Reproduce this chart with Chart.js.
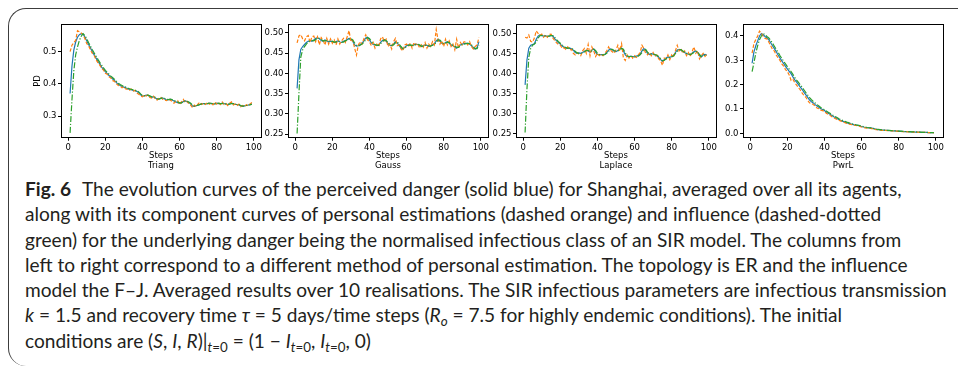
<!DOCTYPE html>
<html>
<head>
<meta charset="utf-8">
<script src="https://cdn.jsdelivr.net/npm/chart.js@4.4.1/dist/chart.umd.min.js"></script>
<style>
  html, body { margin: 0; padding: 0; background: #fff; }
  body { width: 958px; height: 368px; position: relative; overflow: hidden; }
  .frame {
    position: absolute; left: 8px; top: 8px; width: 1000px; height: 357px;
    border-top: 1.5px solid #3c3c3c; border-left: 1.5px solid #3c3c3c;
    border-top-left-radius: 18px; border-bottom-left-radius: 18px;
  }
  canvas { position: absolute; top: 14px; }
  .caption {
    position: absolute; left: 25px; top: 176px;
    font-family: Lato, sans-serif; font-size: 19.1px; line-height: 25.27px;
    color: #231f20; white-space: nowrap;
  }
  .caption b { font-weight: 700; margin-right: 11px; }
  .caption sub { font-size: 70%; line-height: 0; vertical-align: -0.3em; }
</style>
</head>
<body>
<div class="frame"></div>
<canvas id="c1" width="258" height="160" style="left:11px"></canvas>
<canvas id="c2" width="258" height="160" style="left:238px"></canvas>
<canvas id="c3" width="258" height="160" style="left:466px"></canvas>
<canvas id="c4" width="258" height="160" style="left:693px"></canvas>
<div class="caption">
<b>Fig. 6</b>The evolution curves of the perceived danger (solid blue) for Shanghai, averaged over all its agents,<br>
along with its component curves of personal estimations (dashed orange) and influence (dashed-dotted<br>
green) for the underlying danger being the normalised infectious class of an SIR model. The columns from<br>
left to right correspond to a different method of personal estimation. The topology is ER and the influence<br>
model the F–J. Averaged results over 10 realisations. The SIR infectious parameters are infectious transmission<br>
<i>k</i> = 1.5 and recovery time <i>τ</i> = 5 days/time steps (<i>R<sub>o</sub></i> = 7.5 for highly endemic conditions). The initial<br>
conditions are (<i>S</i>, <i>I</i>, <i>R</i>)|<sub><i>t</i>=0</sub> = (1 − <i>I</i><sub><i>t</i>=0</sub>, <i>I</i><sub><i>t</i>=0</sub>, 0)
</div>
<script>
const steps = [1,2,3,4,5,6,7,8,9,10,11,12,13,14,15,16,17,18,19,20,21,22,23,24,25,26,27,28,29,30,
  31,32,33,34,35,36,37,38,39,40,41,42,43,44,45,46,47,48,49,50,51,52,53,54,55,56,57,58,59,60,
  61,62,63,64,65,66,67,68,69,70,71,72,73,74,75,76,77,78,79,80,81,82,83,84,85,86,87,88,89,90,
  91,92,93,94,95,96,97,98,99];
const xTicks = [0, 20, 40, 60, 80, 100];
const methods = ['Triang', 'Gauss', 'Laplace', 'PwrL'];

// Triang
const triangBlue = [0.370,0.455,0.505,0.530,0.545,0.553,0.556,0.555,0.545,0.533,0.522,0.511,0.500,0.490,0.480,0.470,0.462,0.452,0.445,0.438,
  0.432,0.426,0.420,0.415,0.410,0.404,0.398,0.395,0.392,0.390,0.388,0.385,0.383,0.382,0.380,0.379,0.377,0.372,0.366,0.362,
  0.363,0.365,0.364,0.361,0.358,0.360,0.356,0.352,0.353,0.356,0.356,0.353,0.350,0.351,0.352,0.350,0.347,0.344,0.342,0.340,
  0.341,0.345,0.347,0.345,0.342,0.338,0.331,0.330,0.332,0.334,0.336,0.339,0.339,0.338,0.339,0.340,0.339,0.338,0.338,0.340,
  0.339,0.338,0.340,0.339,0.337,0.336,0.338,0.340,0.338,0.336,0.336,0.335,0.331,0.331,0.332,0.333,0.334,0.336,0.338];
const triangOrange = [0.500,0.520,0.528,0.535,0.565,0.562,0.558,0.553,0.540,0.525,0.518,0.505,0.495,0.488,0.475,0.466,0.458,0.448,0.443,0.433,
  0.430,0.422,0.418,0.410,0.408,0.400,0.395,0.393,0.388,0.391,0.384,0.383,0.380,0.384,0.377,0.380,0.372,0.368,0.363,0.360,
  0.366,0.362,0.366,0.358,0.356,0.362,0.352,0.350,0.356,0.358,0.352,0.350,0.348,0.354,0.349,0.346,0.340,0.345,0.348,0.336,
  0.344,0.352,0.343,0.346,0.338,0.334,0.326,0.334,0.330,0.338,0.343,0.336,0.341,0.336,0.343,0.337,0.341,0.335,0.344,0.337,
  0.342,0.336,0.344,0.336,0.339,0.333,0.340,0.344,0.335,0.338,0.333,0.337,0.329,0.333,0.330,0.335,0.332,0.338,0.342];
const triangGreen = [0.248,0.350,0.440,0.490,0.515,0.535,0.548,0.556,0.550,0.540,0.528,0.517,0.506,0.496,0.486,0.476,0.467,0.458,0.450,0.442,
  0.436,0.430,0.424,0.419,0.414,0.408,0.402,0.398,0.395,0.392,0.390,0.387,0.385,0.383,0.382,0.380,0.379,0.375,0.369,0.364,
  0.363,0.365,0.365,0.363,0.360,0.360,0.358,0.354,0.353,0.355,0.357,0.355,0.352,0.351,0.353,0.351,0.349,0.346,0.344,0.341,
  0.341,0.344,0.347,0.346,0.344,0.340,0.334,0.331,0.332,0.334,0.336,0.338,0.339,0.339,0.339,0.340,0.340,0.339,0.338,0.339,
  0.340,0.339,0.339,0.340,0.338,0.337,0.337,0.339,0.339,0.337,0.336,0.336,0.333,0.331,0.331,0.333,0.334,0.335,0.337];

// Gauss
const gaussBlue = [0.363,0.433,0.459,0.466,0.471,0.476,0.479,0.481,0.479,0.482,0.486,0.487,0.485,0.481,0.479,0.482,0.480,0.477,0.479,0.478,
  0.476,0.478,0.480,0.477,0.476,0.479,0.481,0.483,0.486,0.484,0.479,0.470,0.467,0.468,0.471,0.474,0.480,0.487,0.489,0.482,
  0.475,0.471,0.470,0.468,0.470,0.476,0.481,0.483,0.479,0.473,0.469,0.468,0.472,0.478,0.475,0.468,0.463,0.460,0.464,0.468,
  0.470,0.469,0.468,0.470,0.472,0.471,0.468,0.466,0.468,0.470,0.469,0.466,0.468,0.470,0.473,0.480,0.484,0.479,0.474,0.472,
  0.476,0.478,0.474,0.470,0.468,0.465,0.462,0.466,0.470,0.472,0.473,0.474,0.474,0.472,0.468,0.462,0.460,0.463,0.478];
const gaussOrange = [0.475,0.492,0.495,0.485,0.480,0.490,0.493,0.476,0.490,0.492,0.478,0.490,0.470,0.488,0.482,0.470,0.486,0.472,0.485,0.474,
  0.482,0.470,0.485,0.472,0.480,0.486,0.476,0.490,0.505,0.478,0.482,0.462,0.445,0.470,0.478,0.472,0.485,0.495,0.482,0.478,
  0.468,0.476,0.462,0.472,0.466,0.485,0.490,0.478,0.484,0.466,0.472,0.460,0.478,0.486,0.468,0.470,0.460,0.455,0.470,0.472,
  0.466,0.474,0.462,0.476,0.470,0.474,0.462,0.470,0.464,0.476,0.462,0.472,0.466,0.478,0.470,0.508,0.482,0.472,0.480,0.466,
  0.484,0.470,0.480,0.466,0.472,0.458,0.484,0.462,0.476,0.470,0.478,0.476,0.470,0.478,0.466,0.460,0.466,0.470,0.488];
const gaussGreen = [0.252,0.350,0.440,0.458,0.466,0.472,0.477,0.480,0.481,0.480,0.483,0.486,0.486,0.483,0.480,0.480,0.481,0.479,0.478,0.479,
  0.477,0.477,0.479,0.479,0.477,0.477,0.480,0.482,0.484,0.486,0.482,0.475,0.469,0.467,0.469,0.472,0.476,0.483,0.488,0.486,
  0.479,0.473,0.471,0.469,0.469,0.473,0.478,0.482,0.481,0.476,0.471,0.469,0.470,0.475,0.477,0.472,0.466,0.461,0.462,0.466,
  0.469,0.470,0.469,0.469,0.471,0.472,0.470,0.467,0.467,0.469,0.470,0.468,0.467,0.469,0.471,0.476,0.482,0.482,0.477,0.473,
  0.474,0.477,0.476,0.472,0.469,0.467,0.464,0.464,0.468,0.471,0.472,0.473,0.474,0.473,0.470,0.465,0.461,0.461,0.470];

// Laplace
const laplaceBlue = [0.371,0.433,0.463,0.470,0.472,0.474,0.485,0.493,0.496,0.494,0.493,0.494,0.492,0.493,0.495,0.493,0.486,0.481,0.476,0.473,
  0.468,0.465,0.463,0.462,0.463,0.461,0.458,0.452,0.450,0.451,0.450,0.452,0.455,0.458,0.456,0.453,0.458,0.461,0.453,0.447,
  0.446,0.447,0.446,0.447,0.452,0.458,0.461,0.459,0.455,0.454,0.457,0.461,0.463,0.456,0.446,0.442,0.441,0.443,0.442,0.441,
  0.443,0.444,0.448,0.456,0.462,0.457,0.450,0.447,0.449,0.448,0.446,0.444,0.440,0.435,0.430,0.434,0.438,0.441,0.440,0.442,
  0.445,0.452,0.458,0.460,0.458,0.454,0.452,0.449,0.448,0.447,0.450,0.454,0.456,0.452,0.444,0.441,0.446,0.447,0.445];
const laplaceOrange = [0.490,0.488,0.496,0.480,0.478,0.488,0.506,0.500,0.495,0.498,0.490,0.496,0.490,0.497,0.498,0.488,0.482,0.476,0.472,0.470,
  0.462,0.464,0.460,0.466,0.458,0.460,0.450,0.446,0.452,0.448,0.444,0.456,0.462,0.450,0.472,0.444,0.466,0.456,0.442,0.450,
  0.444,0.448,0.444,0.450,0.456,0.466,0.458,0.454,0.450,0.458,0.470,0.456,0.474,0.438,0.432,0.446,0.438,0.445,0.438,0.444,
  0.440,0.446,0.452,0.470,0.462,0.450,0.446,0.452,0.444,0.452,0.442,0.446,0.436,0.432,0.420,0.438,0.436,0.446,0.434,0.446,
  0.440,0.456,0.470,0.456,0.462,0.450,0.456,0.444,0.452,0.442,0.454,0.466,0.450,0.456,0.436,0.444,0.450,0.442,0.448];
const laplaceGreen = [0.252,0.360,0.440,0.462,0.470,0.473,0.478,0.488,0.494,0.495,0.494,0.493,0.493,0.493,0.494,0.494,0.490,0.484,0.479,0.475,
  0.471,0.467,0.464,0.463,0.463,0.462,0.460,0.455,0.451,0.450,0.450,0.451,0.454,0.457,0.457,0.455,0.456,0.460,0.457,0.450,
  0.447,0.446,0.446,0.447,0.450,0.455,0.460,0.460,0.457,0.455,0.456,0.459,0.462,0.460,0.451,0.444,0.442,0.442,0.442,0.441,
  0.442,0.443,0.446,0.452,0.460,0.460,0.453,0.448,0.448,0.448,0.447,0.445,0.442,0.437,0.432,0.432,0.436,0.439,0.440,0.441,
  0.443,0.449,0.455,0.459,0.459,0.456,0.453,0.450,0.448,0.447,0.449,0.452,0.455,0.454,0.447,0.442,0.444,0.446,0.446];

// PwrL
const pwrlBlue = [0.288,0.335,0.360,0.380,0.400,0.410,0.405,0.398,0.392,0.385,0.372,0.360,0.348,0.336,0.322,0.310,0.298,0.287,0.275,0.265,
  0.255,0.245,0.232,0.220,0.210,0.200,0.190,0.180,0.168,0.158,0.148,0.137,0.130,0.125,0.118,0.112,0.107,0.101,0.098,0.094,
  0.088,0.082,0.078,0.073,0.068,0.064,0.060,0.056,0.052,0.049,0.046,0.044,0.041,0.039,0.037,0.035,0.034,0.032,0.030,0.028,
  0.026,0.024,0.023,0.022,0.022,0.020,0.018,0.016,0.015,0.014,0.013,0.013,0.012,0.012,0.011,0.011,0.010,0.010,0.009,0.009,
  0.008,0.008,0.007,0.007,0.007,0.006,0.006,0.006,0.005,0.005,0.005,0.004,0.004,0.004,0.004,0.003,0.003,0.003,0.003];
const pwrlOrange = [0.330,0.370,0.385,0.400,0.420,0.412,0.398,0.390,0.388,0.375,0.360,0.345,0.338,0.322,0.310,0.300,0.285,0.276,0.262,0.254,
  0.240,0.218,0.222,0.208,0.198,0.188,0.178,0.165,0.155,0.148,0.135,0.125,0.124,0.118,0.112,0.104,0.101,0.095,0.093,0.090,
  0.082,0.078,0.074,0.068,0.064,0.060,0.056,0.053,0.050,0.046,0.044,0.041,0.039,0.037,0.035,0.034,0.032,0.031,0.028,0.026,
  0.024,0.022,0.021,0.021,0.020,0.018,0.016,0.015,0.014,0.013,0.012,0.012,0.012,0.011,0.011,0.010,0.010,0.009,0.009,0.008,
  0.008,0.007,0.007,0.007,0.006,0.006,0.006,0.005,0.005,0.005,0.004,0.004,0.004,0.004,0.003,0.003,0.003,0.003,0.002];
const pwrlGreen = [0.254,0.290,0.330,0.360,0.385,0.400,0.410,0.405,0.398,0.392,0.382,0.370,0.358,0.345,0.333,0.320,0.308,0.296,0.285,0.274,
  0.264,0.254,0.242,0.230,0.219,0.209,0.199,0.189,0.178,0.167,0.157,0.147,0.138,0.131,0.125,0.118,0.112,0.106,0.101,0.097,
  0.092,0.087,0.082,0.077,0.072,0.068,0.064,0.059,0.056,0.052,0.049,0.046,0.044,0.041,0.039,0.037,0.035,0.034,0.032,0.030,
  0.028,0.026,0.024,0.023,0.022,0.021,0.019,0.017,0.016,0.015,0.014,0.013,0.013,0.012,0.012,0.011,0.011,0.010,0.010,0.009,
  0.009,0.008,0.008,0.007,0.007,0.007,0.006,0.006,0.006,0.005,0.005,0.005,0.004,0.004,0.004,0.004,0.003,0.003,0.003];

const yTicksTriang = [0.3, 0.4, 0.5];
const yTicksMid = [0.25, 0.30, 0.35, 0.40, 0.45, 0.50];
const yTicksPwrl = [0.0, 0.1, 0.2, 0.3, 0.4];

const frame = {
  id: 'frame',
  afterDraw(chart) {
    const a = chart.chartArea, c = chart.ctx;
    c.save();
    c.strokeStyle = '#000';
    c.lineWidth = 1;
    c.strokeRect(Math.round(a.left) + 0.5, Math.round(a.top) + 0.5, Math.round(a.right - a.left), Math.round(a.bottom - a.top));
    c.restore();
  }
};

const tickFont = { family: 'DejaVu Sans', size: 8.5 };

function series(data, color, dash, order) {
  return {
    data: steps.map((s, i) => ({ x: s, y: data[i] })),
    borderColor: color,
    borderWidth: 1.2,
    borderDash: dash,
    pointRadius: 0,
    fill: false,
    tension: 0,
    order: order
  };
}

function makeChart(id, blue, orange, green, yMin, yMax, yTicks, decimals, name, showPD) {
  new Chart(document.getElementById(id), {
    type: 'line',
    data: {
      datasets: [
        series(blue, '#1f77b4', [], 3),
        series(orange, '#ff7f0e', [3.5, 1.8], 2),
        series(green, '#2ca02c', [6, 1.8, 1.2, 1.8], 1)
      ]
    },
    options: {
      responsive: false,
      animation: false,
      devicePixelRatio: 1,
      layout: { padding: { top: 10.3, right: 8, left: 0, bottom: 0 } },
      plugins: { legend: { display: false }, tooltip: { enabled: false } },
      scales: {
        x: {
          type: 'linear',
          min: -3.9, max: 103.9,
          afterBuildTicks: s => { s.ticks = xTicks.map(v => ({ value: v })); },
          afterFit: s => { s.height = 36.3; },
          ticks: { font: tickFont, color: '#000', autoSkip: false, maxRotation: 0, padding: 1.5 },
          grid: { drawOnChartArea: false, tickLength: 3, color: '#000' },
          border: { display: false },
          title: {
            display: true, text: ['Steps', name], color: '#000',
            font: { family: 'DejaVu Sans', size: 8.5, lineHeight: 1.08 },
            padding: { top: 0, bottom: 4 }
          }
        },
        y: {
          min: yMin, max: yMax,
          afterBuildTicks: s => { s.ticks = yTicks.map(v => ({ value: v })); },
          afterFit: s => { s.width = 50; },
          ticks: { font: tickFont, color: '#000', autoSkip: false, padding: 1.5,
                   callback: v => v.toFixed(decimals) },
          grid: { drawOnChartArea: false, tickLength: 3, color: '#000' },
          border: { display: false },
          title: {
            display: showPD, text: 'PD', color: '#000',
            font: { family: 'DejaVu Sans', size: 8.5, lineHeight: 1 },
            padding: { top: 23, bottom: 0 }
          }
        }
      }
    },
    plugins: [frame]
  });
}

makeChart('c1', triangBlue, triangOrange, triangGreen, 0.233, 0.585, yTicksTriang, 1, methods[0], true);
makeChart('c2', gaussBlue, gaussOrange, gaussGreen, 0.2416, 0.5207, yTicksMid, 2, methods[1], false);
makeChart('c3', laplaceBlue, laplaceOrange, laplaceGreen, 0.239, 0.5225, yTicksMid, 2, methods[2], false);
makeChart('c4', pwrlBlue, pwrlOrange, pwrlGreen, -0.018, 0.448, yTicksPwrl, 1, methods[3], false);
</script>
</body>
</html>
